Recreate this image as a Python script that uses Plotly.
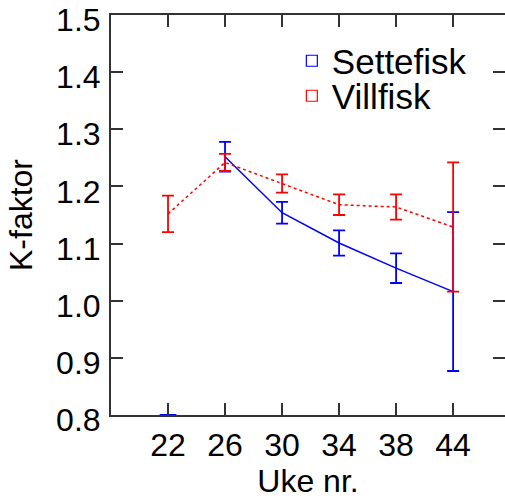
import plotly.graph_objects as go

weeks = ["22", "26", "30", "34", "38", "44"]
pos = [1, 2, 3, 4, 5, 6]

sette_y = [None, 1.252, 1.154, 1.101, 1.057, 1.016]
sette_err = [None, 0.026, 0.019, 0.022, 0.026, 0.139]
sette_stub = 0.8  # value at week 22 shown only as a cap at the axis

vill_y = [1.152, 1.242, 1.205, 1.168, 1.164, 1.129]
vill_err = [0.032, 0.015, 0.016, 0.018, 0.022, 0.113]

blue = "#0000ff"
red = "#ff0000"
font = "Liberation Sans, Arial, sans-serif"

fig = go.Figure()
fig.add_trace(go.Scatter(
    x=pos, y=sette_y, mode="lines", line=dict(color=blue, width=1.5),
    error_y=dict(type="data", array=sette_err, color=blue, thickness=1.8, width=6),
    showlegend=False, cliponaxis=False))
fig.add_trace(go.Scatter(
    x=[pos[0]], y=[sette_stub], mode="markers",
    marker=dict(symbol="line-ew-open", size=12, color=blue, line=dict(color=blue, width=2)),
    showlegend=False, cliponaxis=False))
fig.add_trace(go.Scatter(
    x=pos, y=vill_y, mode="lines", line=dict(color=red, width=1.5, dash="dot"),
    error_y=dict(type="data", array=vill_err, color=red, thickness=1.8, width=6),
    showlegend=False, cliponaxis=False))
fig.add_trace(go.Scatter(
    x=[None], y=[None], mode="markers", name="Settefisk", legend="legend",
    marker=dict(symbol="square-open", size=11, color=blue, line=dict(color=blue, width=1.2))))
fig.add_trace(go.Scatter(
    x=[None], y=[None], mode="markers", name="Villfisk", legend="legend2",
    marker=dict(symbol="square-open", size=11, color=red, line=dict(color=red, width=1.2))))

axis_common = dict(
    showline=True, linecolor="#333333", linewidth=2, mirror="ticks",
    ticks="inside", ticklen=12, tickwidth=2, tickcolor="#333333",
    showgrid=False, zeroline=False, automargin=False,
    ticklabeloverflow="allow",
    tickfont=dict(family=font, size=32, color="black"),
)

leg_common = dict(xanchor="left", yanchor="middle", bgcolor="rgba(0,0,0,0)",
                  font=dict(family=font, size=35, color="black"), itemwidth=30)

fig.update_layout(
    width=505, height=501,
    margin=dict(l=111, r=0, t=15, b=86),
    plot_bgcolor="white", paper_bgcolor="white",
    font=dict(family=font, color="black"),
    xaxis=dict(range=[0, 6.91], tickvals=pos, ticktext=weeks,
               title=dict(text="Uke nr.", font=dict(family=font, size=32), standoff=0),
               ticklabelstandoff=1, **axis_common),
    yaxis=dict(range=[0.8, 1.5], dtick=0.1, tickformat=".1f",
               title=dict(text="K-faktor", font=dict(family=font, size=32), standoff=14),
               ticklabelstandoff=2, ticklabelshift=5, **axis_common),
    legend=dict(x=0.459, y=0.885, **leg_common),
    legend2=dict(x=0.459, y=0.7975, **leg_common),
    showlegend=True,
)

fig.write_html("out.html", config={"displayModeBar": False},
               post_script="document.body.style.margin='0';")
